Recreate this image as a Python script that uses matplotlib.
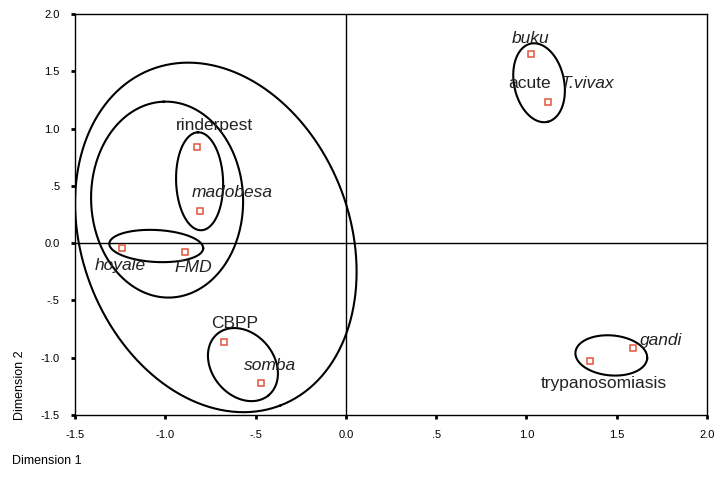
import numpy as np
import matplotlib; matplotlib.use("Agg")
import matplotlib.pyplot as plt

plt.rcParams["font.family"] = ["Liberation Sans", "DejaVu Sans"]

# point data (dimension 1, dimension 2)
names = ["rinderpest", "madobesa", "hoyale", "FMD", "CBPP", "somba",
         "buku", "acute T.vivax", "gandi", "trypanosomiasis"]
dim1 = [-0.825, -0.808, -1.24, -0.891, -0.675, -0.470, 1.025, 1.119, 1.590, 1.351]
dim2 = [0.838, 0.280, -0.043, -0.078, -0.865, -1.222, 1.650, 1.231, -0.917, -1.030]

# label pieces: point index, text, italic, offset px (dx, dy up), alignment
lab_idx = [0, 1, 2, 3, 4, 5, 6, 7, 7, 8, 9]
lab_txt = ["rinderpest", "madobesa", "hoyale", "FMD", "CBPP", "somba",
           "buku", "acute", "T.vivax", "gandi", "trypanosomiasis"]
lab_it = [False, True, True, True, False, True, True, False, True, True, False]
lab_off = [(18, 22), (32, 19), (-2, -17), (8, -15), (11, 19), (9, 18),
           (0, 16), (-18, 19), (13, 19), (7, 8), (14, -22)]
lab_ha = ["center", "center", "center", "center", "center", "center",
          "center", "center", "left", "left", "center"]

# grouping ellipses: centre (data), semi axes (px), angle (deg)
ell_cx = [-0.72, -0.99, -0.81, -1.05, -0.57, 1.07, 1.47]
ell_cy = [0.05, 0.38, 0.54, -0.025, -1.06, 1.40, -0.98]
ell_a = [180, 98, 49, 47, 40, 40, 36]
ell_b = [134, 76, 23.5, 16, 31, 25, 20]
ell_ang = [-69, 92, 92, -3, -50, -78, -5]

XT = [-1.5, -1.0, -0.5, 0.0, 0.5, 1.0, 1.5, 2.0]
XTL = ["-1.5", "-1.0", "-.5", "0.0", ".5", "1.0", "1.5", "2.0"]
YT = [-1.5, -1.0, -0.5, 0.0, 0.5, 1.0, 1.5, 2.0]
YTL = ["-1.5", "-1.0", "-.5", "0.0", ".5", "1.0", "1.5", "2.0"]

fig = plt.figure(figsize=(7.2, 4.86), dpi=100)
ax = fig.add_axes([75/720, 1-415/486, 632/720, 401/486])
ax.set_xlim(-1.5, 2.0); ax.set_ylim(-1.5, 2.0)
XS = 632/3.5; YS = 401/3.5

ax.axhline(0, color="black", lw=1.0, zorder=1)
ax.axvline(0, color="black", lw=1.0, zorder=1)

t = np.linspace(0, 2*np.pi, 300)
for cx, cy, a, b, ang in zip(ell_cx, ell_cy, ell_a, ell_b, ell_ang):
    th = np.radians(ang)
    ex = cx + (a*np.cos(t)*np.cos(th) - b*np.sin(t)*np.sin(th))/XS
    ey = cy + (a*np.cos(t)*np.sin(th) + b*np.sin(t)*np.cos(th))/YS
    ax.plot(ex, ey, color="black", lw=1.5, zorder=2)

ax.plot(dim1, dim2, ls="none", marker="s", ms=5, mfc="white", mec="#e2553c", mew=1.1, zorder=3)
for i, txt, it, (dx, dy), ha in zip(lab_idx, lab_txt, lab_it, lab_off, lab_ha):
    ax.annotate(txt, xy=(dim1[i], dim2[i]), xytext=(dx, dy), textcoords="offset pixels", ha=ha, va="center",
                fontsize=12.5, style="italic" if it else "normal", color="#222222", zorder=4)

ax.set_xticks(XT); ax.set_xticklabels(XTL)
ax.set_yticks(YT); ax.set_yticklabels(YTL)
ax.tick_params(direction="out", length=3, width=2, labelsize=8, pad=8, colors="black")
for s in ax.spines.values(): s.set_linewidth(1.0)

fig.text(20/720, 1-385/486, "Dimension 2", rotation=90, ha="center", va="center", fontsize=9)
fig.text(12/720, 1-461/486, "Dimension 1", ha="left", va="center", fontsize=9)

fig.savefig("out.png", dpi=100)
